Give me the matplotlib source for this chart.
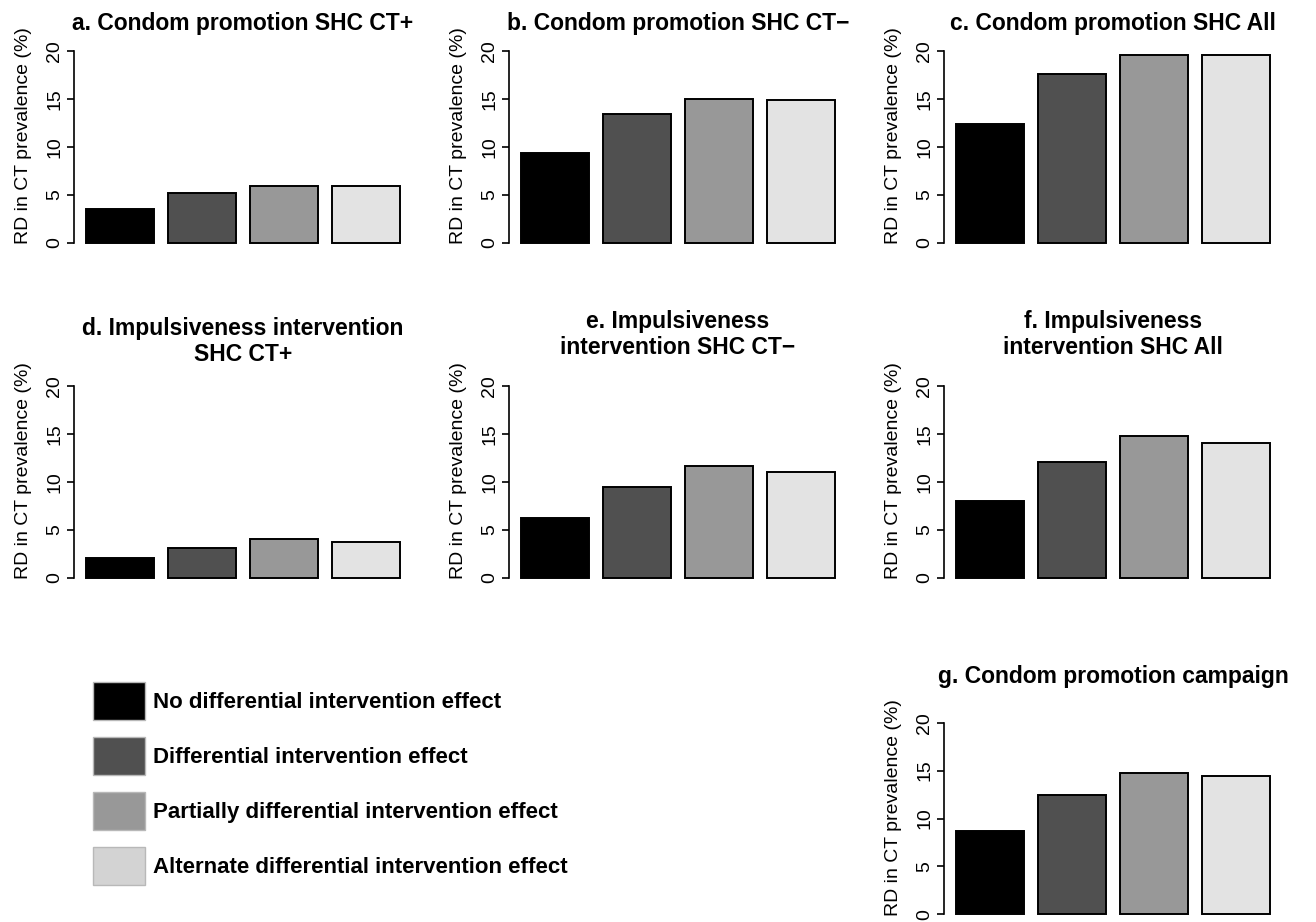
import matplotlib
matplotlib.use("Agg")
import matplotlib.pyplot as plt
from matplotlib.patches import Patch

plt.rcParams['font.family'] = ['Liberation Sans', 'DejaVu Sans']

# data (RD in CT prevalence, %)
effects = ["No differential intervention effect",
           "Differential intervention effect",
           "Partially differential intervention effect",
           "Alternate differential intervention effect"]
bar_colors = ["#000000", "#505050", "#989898", "#e3e3e3"]
legend_colors = ["#000000", "#505050", "#989898", "#d3d3d3"]

a_vals = [3.5, 5.2, 5.9, 5.9]
b_vals = [9.4, 13.4, 15.0, 14.9]
c_vals = [12.4, 17.6, 19.6, 19.6]
d_vals = [2.0, 3.1, 4.0, 3.7]
e_vals = [6.2, 9.5, 11.6, 11.0]
f_vals = [8.0, 12.1, 14.8, 14.0]
g_vals = [8.7, 12.5, 14.7, 14.4]

titles = ["a. Condom promotion SHC CT+",
          "b. Condom promotion SHC CT\u2212",
          "c. Condom promotion SHC All",
          "d. Impulsiveness intervention\nSHC CT+",
          "e. Impulsiveness\nintervention SHC CT\u2212",
          "f. Impulsiveness\nintervention SHC All",
          "g. Condom promotion campaign"]
all_vals = [a_vals, b_vals, c_vals, d_vals, e_vals, f_vals, g_vals]

# R barplot style positions: width 1, space 0.2
bar_left = [0.2 + 1.2 * i for i in range(4)]

W, H = 1316, 922
fig = plt.figure(figsize=(W / 100, H / 100), dpi=100)

col_left = [73.5, 508.5, 943.5]
row_top = [43.4, 378.3, 715.0]
ax_w, ax_h = 339, 207
title_pad = [13.4, 13.4, 13.4, 17.3, 24.5, 24.5, 32]
places = [(0, 0), (1, 0), (2, 0), (0, 1), (1, 1), (2, 1), (2, 2)]

for k in range(7):
    ci, ri = places[k]
    left = col_left[ci] / W
    bottom = 1 - (row_top[ri] + ax_h) / H
    ax = fig.add_axes([left, bottom, ax_w / W, ax_h / H])
    ax.bar(bar_left, all_vals[k], width=1.0, align='edge',
           color=bar_colors, edgecolor='black', linewidth=1.4)
    ax.set_xlim(0.016, 4.984)
    ax.set_ylim(-0.8, 20.8)
    ax.set_yticks([0, 5, 10, 15, 20])
    ax.tick_params(axis='y', labelrotation=90, labelsize=14, length=5,
                   width=1.2, pad=2.5)
    for lab in ax.get_yticklabels():
        lab.set_verticalalignment('center')
    ax.set_xticks([])
    for s in ['top', 'right', 'bottom']:
        ax.spines[s].set_visible(False)
    ax.spines['left'].set_bounds(0, 20)
    ax.spines['left'].set_linewidth(1.2)
    ax.set_ylabel("RD in CT prevalence (%)", fontsize=14)
    ax.yaxis.set_label_coords(-0.122, 0.553)
    ax.set_title(titles[k], fontsize=16.5, fontweight='bold',
                 pad=title_pad[k] * 0.72, linespacing=1.15)

handles = [Patch(facecolor=legend_colors[i], edgecolor='#b8b8b8', linewidth=1)
           for i in range(4)]
fig.legend(handles, effects, loc='upper left',
           bbox_to_anchor=(93 / W, 1 - 682 / H), frameon=False,
           prop={'weight': 'bold', 'size': 16},
           handlelength=2.34, handleheight=2.254, handletextpad=0.36,
           labelspacing=0.77, borderpad=0, borderaxespad=0)

fig.savefig("out.png", dpi=100)
